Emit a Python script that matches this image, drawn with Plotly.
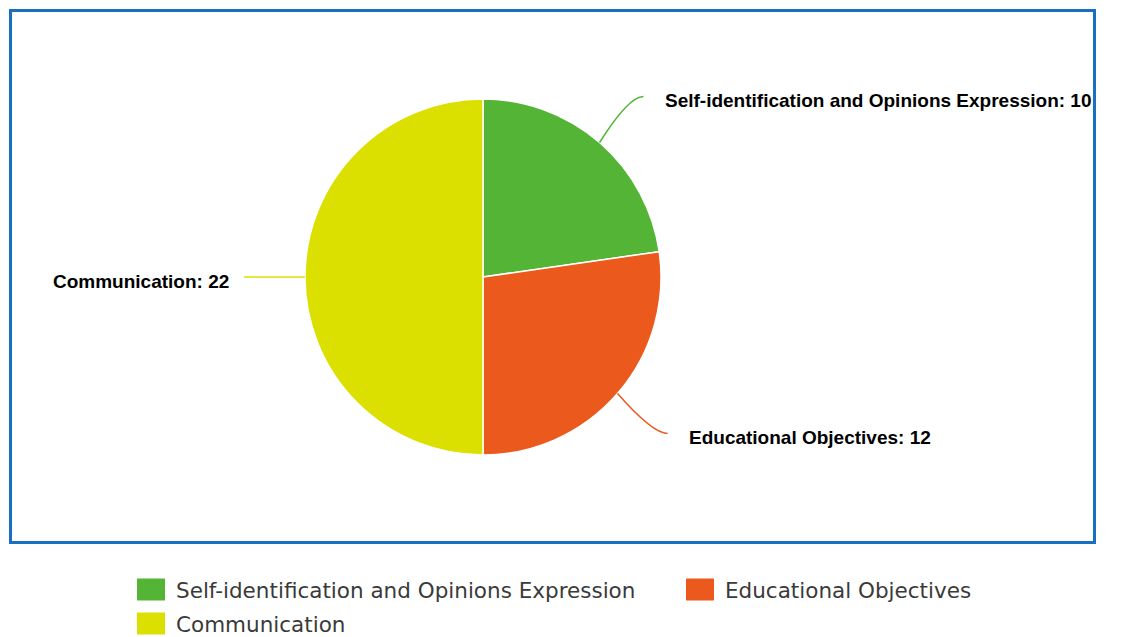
import math
import plotly.graph_objects as go

# ---- data ----
categories = ["Self-identification and Opinions Expression", "Educational Objectives", "Communication"]
values = [10, 12, 22]
colors = ["#54b435", "#eb5a1c", "#dbe000"]

# ---- layout constants (pixels, page coordinates) ----
OFF = 8                      # page body margin
W, H = 1130 - OFF, 637 - OFF
CX, CY, R = 483, 277, 178


def px(x):
    return (x - OFF) / W


def py(y):
    return 1 - (y - OFF) / H


fig = go.Figure()
fig.add_trace(go.Pie(
    labels=categories,
    values=values,
    sort=False,
    direction="clockwise",
    rotation=0,
    marker=dict(colors=colors, line=dict(color="white", width=1.5)),
    textinfo="none",
    hovertemplate="%{label}: %{value}<extra></extra>",
    domain=dict(x=[px(CX - R), px(CX + R)], y=[py(CY + R), py(CY - R)]),
    showlegend=False,
))

shapes = []
annotations = []

# outer blue frame
shapes.append(dict(type="rect", xref="paper", yref="paper",
                   x0=px(10.5), x1=px(1094.5), y0=py(542.5), y1=py(10.5),
                   line=dict(color="#1a6fc1", width=3), fillcolor="rgba(0,0,0,0)"))

# data labels with connectors, derived from slice angles
total = sum(values)
cum = 0
for lab, v, col in zip(categories, values, colors):
    mid = (cum + v / 2) / total * 2 * math.pi
    cum += v
    dx, dy = math.sin(mid), -math.cos(mid)
    sx, sy = CX + R * dx, CY + R * dy
    ex, ey = CX + (R + 61) * dx + (4 if dx > 0 else 0), CY + (R + 61) * dy
    side = 1 if dx > 0 else -1
    qx, qy = ex - side * 15, ey
    path = (f"M {px(sx)},{py(sy)} Q {px(qx)},{py(qy)} {px(ex)},{py(ey)}")
    shapes.append(dict(type="path", xref="paper", yref="paper", path=path,
                       line=dict(color=col, width=1.5)))
    gap = 19 if side > 0 else 13
    annotations.append(dict(
        xref="paper", yref="paper", x=px(ex + side * gap), y=py(ey + 4),
        xanchor="left" if side > 0 else "right", yanchor="middle",
        text=f"{lab}: {v}", showarrow=False,
        font=dict(family="Liberation Sans", size=19, color="#000000", weight="bold"),
    ))

# legend (manual, two columns)
for i, (lab, col) in enumerate(zip(categories, colors)):
    c, r = i % 2, i // 2
    x0 = 137 + c * 549
    yc = 589.5 + r * 34
    shapes.append(dict(type="rect", xref="paper", yref="paper",
                       x0=px(x0), x1=px(x0 + 28), y0=py(yc + 11), y1=py(yc - 11),
                       line=dict(width=0), fillcolor=col))
    annotations.append(dict(
        xref="paper", yref="paper", x=px(x0 + 37), y=py(yc + 1),
        xanchor="left", yanchor="middle", text=lab, showarrow=False,
        font=dict(family="DejaVu Sans", size=21.5, color="#3a3a3a"),
    ))

fig.update_layout(
    width=W, height=H,
    margin=dict(l=0, r=0, t=0, b=0),
    paper_bgcolor="white", plot_bgcolor="white",
    shapes=shapes, annotations=annotations,
)

fig.write_html("out.html")
